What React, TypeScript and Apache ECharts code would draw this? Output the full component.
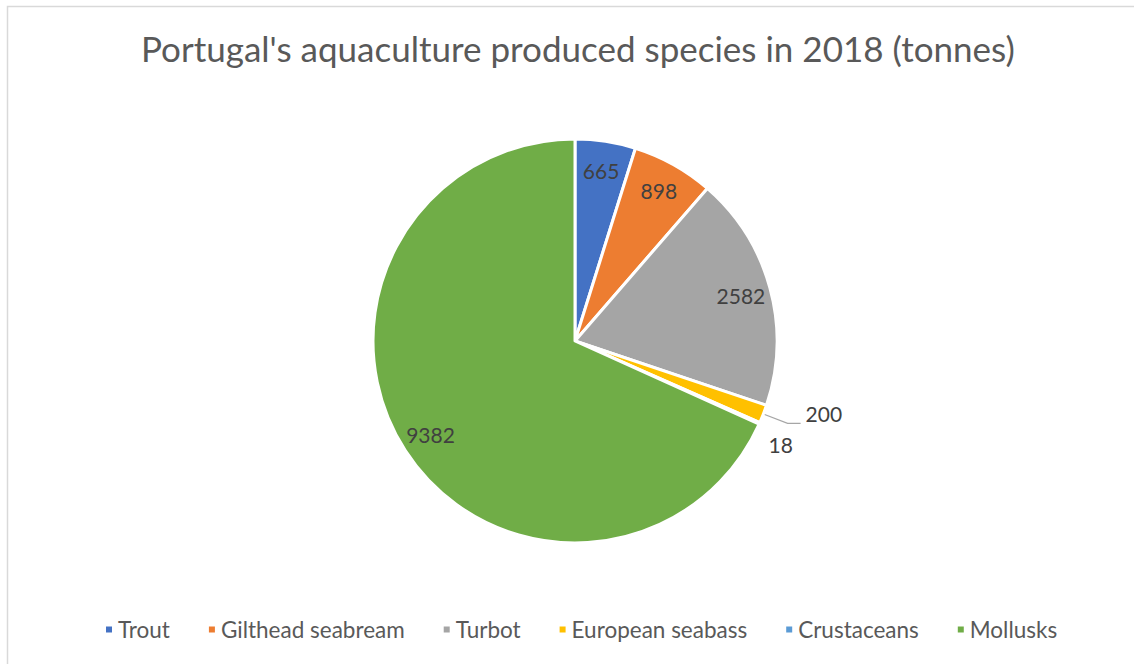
import React, { useEffect, useRef } from "react";
import * as echarts from "echarts";

const categories = ["Trout", "Gilthead seabream", "Turbot", "European seabass", "Crustaceans", "Mollusks"];
const values = [665, 898, 2582, 200, 18, 9382];
const colors = ["#4472C4", "#ED7D31", "#A5A5A5", "#FFC000", "#5B9BD5", "#70AD47"];
const titleText = "Portugal's aquaculture produced species in 2018 (tonnes)";

const FONT = "Lato";

export default function App() {
  const ref = useRef<HTMLDivElement>(null);
  useEffect(() => {
    if (!ref.current) return;
    const chart = echarts.init(ref.current, undefined, { renderer: "svg" });
    const baseData = categories.map((name, i) => ({ name, value: values[i], itemStyle: { color: colors[i] } }));
    const labelData = categories.map((name, i) => {
      const d: any = { name, value: values[i] };
      if (name === "European seabass") {
        d.label = { position: "outside", offset: [0, -10] };
        d.labelLine = { show: true, length: 26, length2: 13, lineStyle: { color: "#a6a6a6", width: 1.3 } };
      } else if (name === "Crustaceans") {
        d.label = { position: "outside", offset: [4, 21] };
        d.labelLine = { show: false, length: 0, length2: 0 };
      }
      return d;
    });
    chart.setOption({
      animation: false,
      textStyle: { fontFamily: FONT },
      title: {
        text: titleText,
        left: 136,
        top: 25,
        textStyle: { fontFamily: FONT, fontSize: 35, fontWeight: "normal", color: "#595959" },
      },
      legend: {
        bottom: 18,
        left: 99,
        icon: "rect",
        itemWidth: 8,
        itemHeight: 8,
        itemGap: 37,
        data: categories,
        textStyle: { fontFamily: FONT, fontSize: 22.5, color: "#595959" },
      },
      graphic: [
        {
          type: "rect",
          shape: { x: 7.5, y: 6.5, width: 1140, height: 670 },
          style: { fill: "none", stroke: "#d9d9d9", lineWidth: 1.5 },
          silent: true,
        },
      ],
      series: [
        {
          type: "pie",
          center: [575, 341],
          radius: [0, 202],
          startAngle: 90,
          clockwise: true,
          avoidLabelOverlap: false,
          label: { show: false },
          labelLine: { show: false },
          itemStyle: { borderColor: "#ffffff", borderWidth: 3 },
          emphasis: { disabled: true },
          data: baseData,
        },
        {
          type: "pie",
          center: [575, 341],
          radius: [136, 202],
          startAngle: 90,
          clockwise: true,
          silent: true,
          avoidLabelOverlap: false,
          legendHoverLink: false,
          itemStyle: { color: "rgba(0,0,0,0)" },
          label: {
            show: true,
            position: "inside",
            formatter: "{c}",
            fontFamily: FONT,
            fontSize: 21,
            color: "#404040",
          },
          labelLine: { show: false },
          emphasis: { disabled: true },
          data: labelData,
        },
      ],
    });
    return () => chart.dispose();
  }, []);
  return <div ref={ref} style={{ position: "absolute", left: 0, top: 0, width: 1134, height: 664 }} />;
}
